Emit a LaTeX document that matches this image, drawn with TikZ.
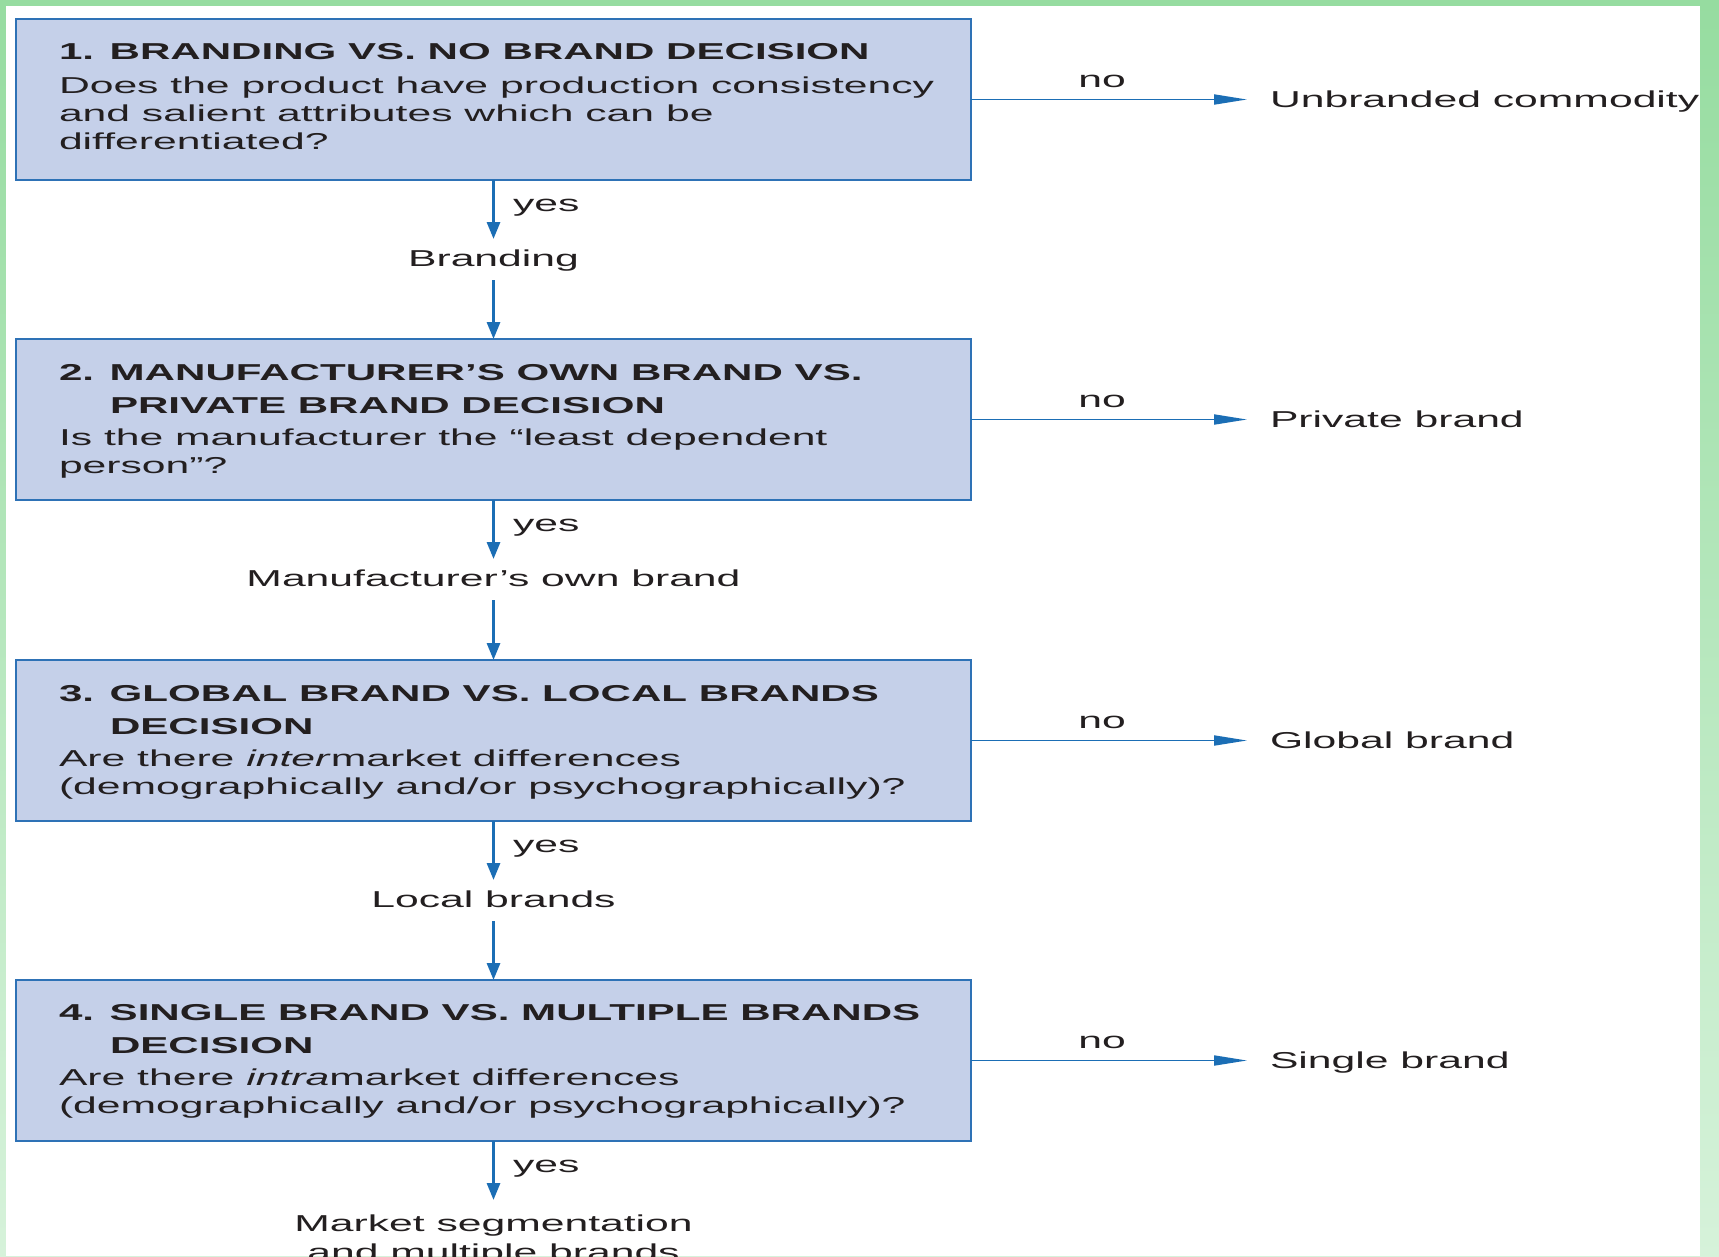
\documentclass[tikz,border=0pt]{standalone}
\usepackage{fontspec}
\setmainfont{Liberation Sans}[FakeStretch=1.855]
\newfontfamily\ttlfont{Liberation Sans}[FakeStretch=1.83]
\usetikzlibrary{arrows.meta}
\definecolor{boxfill}{RGB}{197,208,233}
\definecolor{boxline}{RGB}{46,114,182}
\definecolor{arrowblue}{RGB}{27,110,181}
\definecolor{txtcol}{RGB}{35,31,32}
\definecolor{greentop}{RGB}{150,220,160}
\definecolor{greenbot}{RGB}{214,242,218}
\begin{document}
\begin{tikzpicture}[x=1pt,y=-1pt,
  box/.style={draw=boxline, fill=boxfill, line width=2pt, minimum width=955pt, minimum height=161pt, anchor=north west, inner sep=0pt, outer sep=0pt},
  txt/.style={inner sep=0pt, outer sep=0pt, text=txtcol, font=\fontsize{23pt}{28pt}\selectfont},
  ttl/.style={inner sep=0pt, outer sep=0pt, text=txtcol, font=\fontsize{23pt}{28pt}\ttlfont\bfseries, anchor=base west},
  body/.style={txt, anchor=base west},
  lbl/.style={txt, anchor=base},
  yeslbl/.style={txt, anchor=base west},
  varrow/.style={draw=arrowblue, line width=3pt, -{Triangle[length=17pt,width=13pt]}},
  harrow/.style={draw=arrowblue, line width=1.8pt, -{Triangle[length=33pt,width=10pt]}},
]
\useasboundingbox (0,0) rectangle (1719,1256);
% green frame
\shade[top color=greentop, bottom color=greenbot] (0,0) rectangle (1719,1256);
\fill[white] (6,6) rectangle (1700,1256);
\begin{scope}
\clip (6,6) rectangle (1700,1256);

% boxes
\node[box] (b1) at (16,19) {};
\node[box] (b2) at (16,339) {};
\node[box] (b3) at (16,660) {};
\node[box] (b4) at (16,980) {};

% box 1 text
\node[ttl] (b1a) at (59,59) {1. BRANDING VS. NO BRAND DECISION};
\node[body] (b1b) at (59,93) {Does the product have production consistency};
\node[body] (b1c) at (59,121) {and salient attributes which can be};
\node[body] (b1d) at (59,149) {differentiated?};

% box 2 text
\node[ttl] (b2a) at (59,380) {2. MANUFACTURER’S OWN BRAND VS.};
\node[ttl] (b2b) at (110,413) {PRIVATE BRAND DECISION};
\node[body] (b2c) at (59,445) {Is the manufacturer the “least dependent};
\node[body] (b2d) at (59,473) {person”?};

% box 3 text
\node[ttl] (b3a) at (59,701) {3. GLOBAL BRAND VS. LOCAL BRANDS};
\node[ttl] (b3b) at (110,734) {DECISION};
\node[body] (b3c) at (59,766) {Are there \textit{inter}market differences};
\node[body] (b3d) at (59,794) {(demographically and/or psychographically)?};

% box 4 text
\node[ttl] (b4a) at (59,1020) {4. SINGLE BRAND VS. MULTIPLE BRANDS};
\node[ttl] (b4b) at (110,1053) {DECISION};
\node[body] (b4c) at (59,1085) {Are there \textit{intra}market differences};
\node[body] (b4d) at (59,1113) {(demographically and/or psychographically)?};

% vertical flow
\coordinate (t1) at (493.5,239);
\coordinate (s1) at (493.5,280);
\coordinate (t2) at (493.5,559);
\coordinate (s2) at (493.5,600);
\coordinate (t3) at (493.5,880);
\coordinate (s3) at (493.5,921);
\coordinate (t4) at (493.5,1200);

\draw[varrow] (b1.south) -- (t1);
\node[yeslbl] (y1) at (513,211) {yes};
\node[lbl] (l1) at (493.5,266) {Branding};
\draw[varrow] (s1) -- (b2.north);

\draw[varrow] (b2.south) -- (t2);
\node[yeslbl] (y2) at (513,531) {yes};
\node[lbl] (l2) at (493.5,586) {Manufacturer’s own brand};
\draw[varrow] (s2) -- (b3.north);

\draw[varrow] (b3.south) -- (t3);
\node[yeslbl] (y3) at (513,852) {yes};
\node[lbl] (l3) at (493.5,907) {Local brands};
\draw[varrow] (s3) -- (b4.north);

\draw[varrow] (b4.south) -- (t4);
\node[yeslbl] (y4) at (513,1172) {yes};
\node[lbl] (l4a) at (493.5,1231) {Market segmentation};
\node[lbl] (l4b) at (493.5,1260) {and multiple brands};

% horizontal "no" branches
\coordinate (e1) at (1247,99.5);
\coordinate (e2) at (1247,419.5);
\coordinate (e3) at (1247,740.5);
\coordinate (e4) at (1247,1060.5);

\draw[harrow] (b1.east) -- (e1);
\draw[harrow] (b2.east) -- (e2);
\draw[harrow] (b3.east) -- (e3);
\draw[harrow] (b4.east) -- (e4);

\node[lbl] (n1) at (1102,87) {no};
\node[lbl] (n2) at (1102,407) {no};
\node[lbl] (n3) at (1102,728) {no};
\node[lbl] (n4) at (1102,1048) {no};

\node[body] (r1) at (1270,107.5) {Unbranded commodity};
\node[body] (r2) at (1270,427.5) {Private brand};
\node[body] (r3) at (1270,748.5) {Global brand};
\node[body] (r4) at (1270,1068.5) {Single brand};
\end{scope}
\end{tikzpicture}
\end{document}
